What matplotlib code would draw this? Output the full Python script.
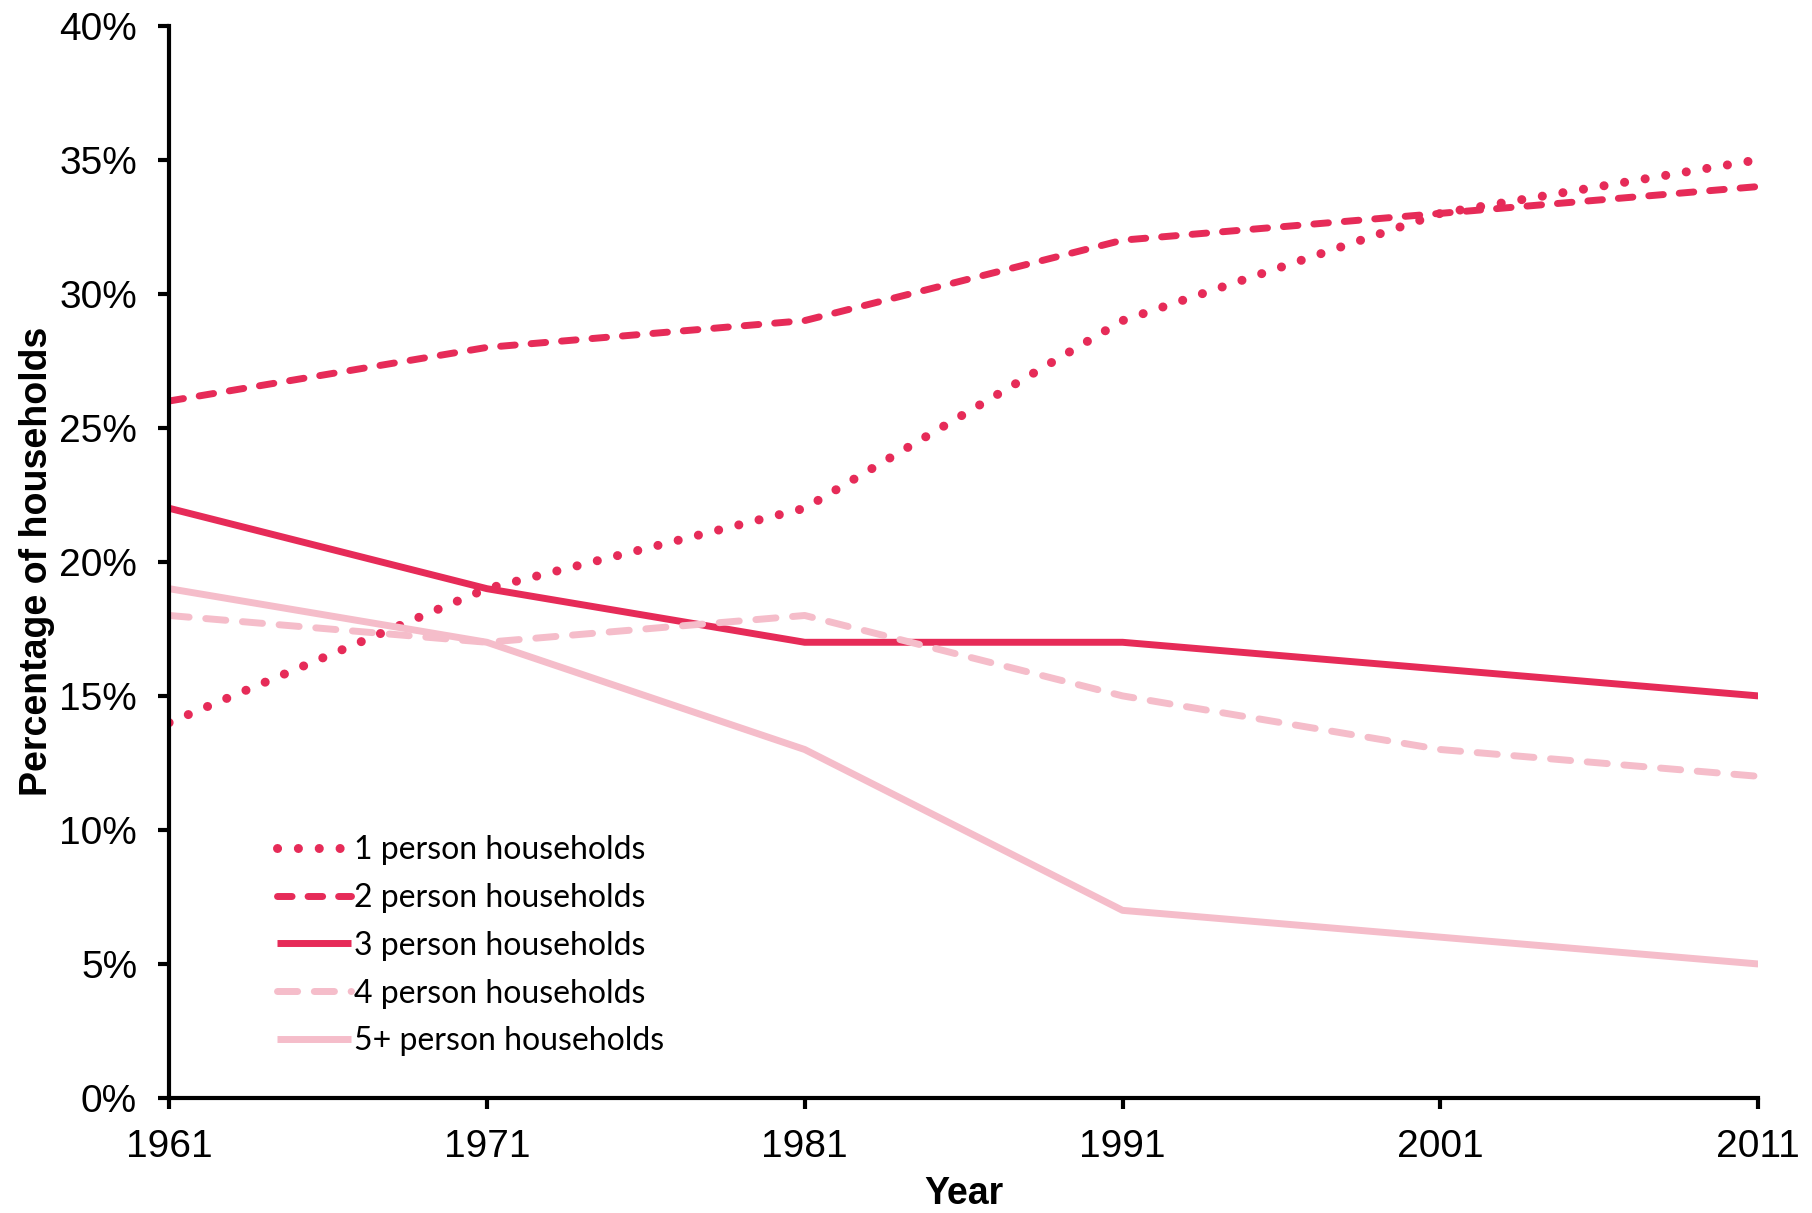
import numpy as np
import matplotlib
matplotlib.use("Agg")
import matplotlib.pyplot as plt
from matplotlib.ticker import FuncFormatter

years = [1961, 1971, 1981, 1991, 2001, 2011]
one_person = [14, 19, 22, 29, 33, 35]
two_person = [26, 28, 29, 32, 33, 34]
three_person = [22, 19, 17, 17, 16, 15]
four_person = [18, 17, 18, 15, 13, 12]
five_plus = [19, 17, 13, 7, 6, 5]
labels = ["1 person households", "2 person households", "3 person households",
          "4 person households", "5+ person households"]

dark = "#E62B58"
light = "#F5BDCA"

plt.rcParams['font.family'] = ['Liberation Sans', 'DejaVu Sans']

fig = plt.figure(figsize=(18.12, 12.13), dpi=100)
ax = fig.add_axes([0.0933, 0.0948, 0.877, 0.884])

lw = 5
series = [
    (one_person, dark, (0, (0.01, 2.3)), 6.5),
    (two_person, dark, (0, (2.1, 2.3)), lw),
    (three_person, dark, "-", lw),
    (four_person, light, (0, (2.9, 2.4)), lw),
    (five_plus, light, "-", lw),
]
for (vals, col, ls, w), lab in zip(series, labels):
    ax.plot(years, np.array(vals) / 100.0, color=col, linestyle=ls, linewidth=w,
            dash_capstyle="round", solid_capstyle="butt", label=lab)

ax.set_xlim(1961, 2011)
ax.set_ylim(0, 0.40)
ax.set_xticks(years)
ax.set_yticks(np.arange(0, 0.41, 0.05))
ax.yaxis.set_major_formatter(FuncFormatter(lambda v, p: "%d%%" % round(v * 100)))

for s in ["top", "right"]:
    ax.spines[s].set_visible(False)
for s in ["left", "bottom"]:
    ax.spines[s].set_linewidth(3)
ax.tick_params(axis="both", direction="out", width=3, length=8, labelsize=28)
ax.tick_params(axis="y", pad=15)
ax.tick_params(axis="x", pad=14)

ax.set_xlabel("Year", fontsize=27, fontweight="bold", labelpad=8)
ax.set_ylabel("Percentage of households", fontsize=27, fontweight="bold", labelpad=3)

leg = ax.legend(loc="lower left", bbox_to_anchor=(0.050, 0.012), frameon=False,
                prop={"family": "Lato", "size": 23}, handlelength=2.3,
                handletextpad=0.1, labelspacing=0.56)

fig.savefig("out.png", dpi=100)
